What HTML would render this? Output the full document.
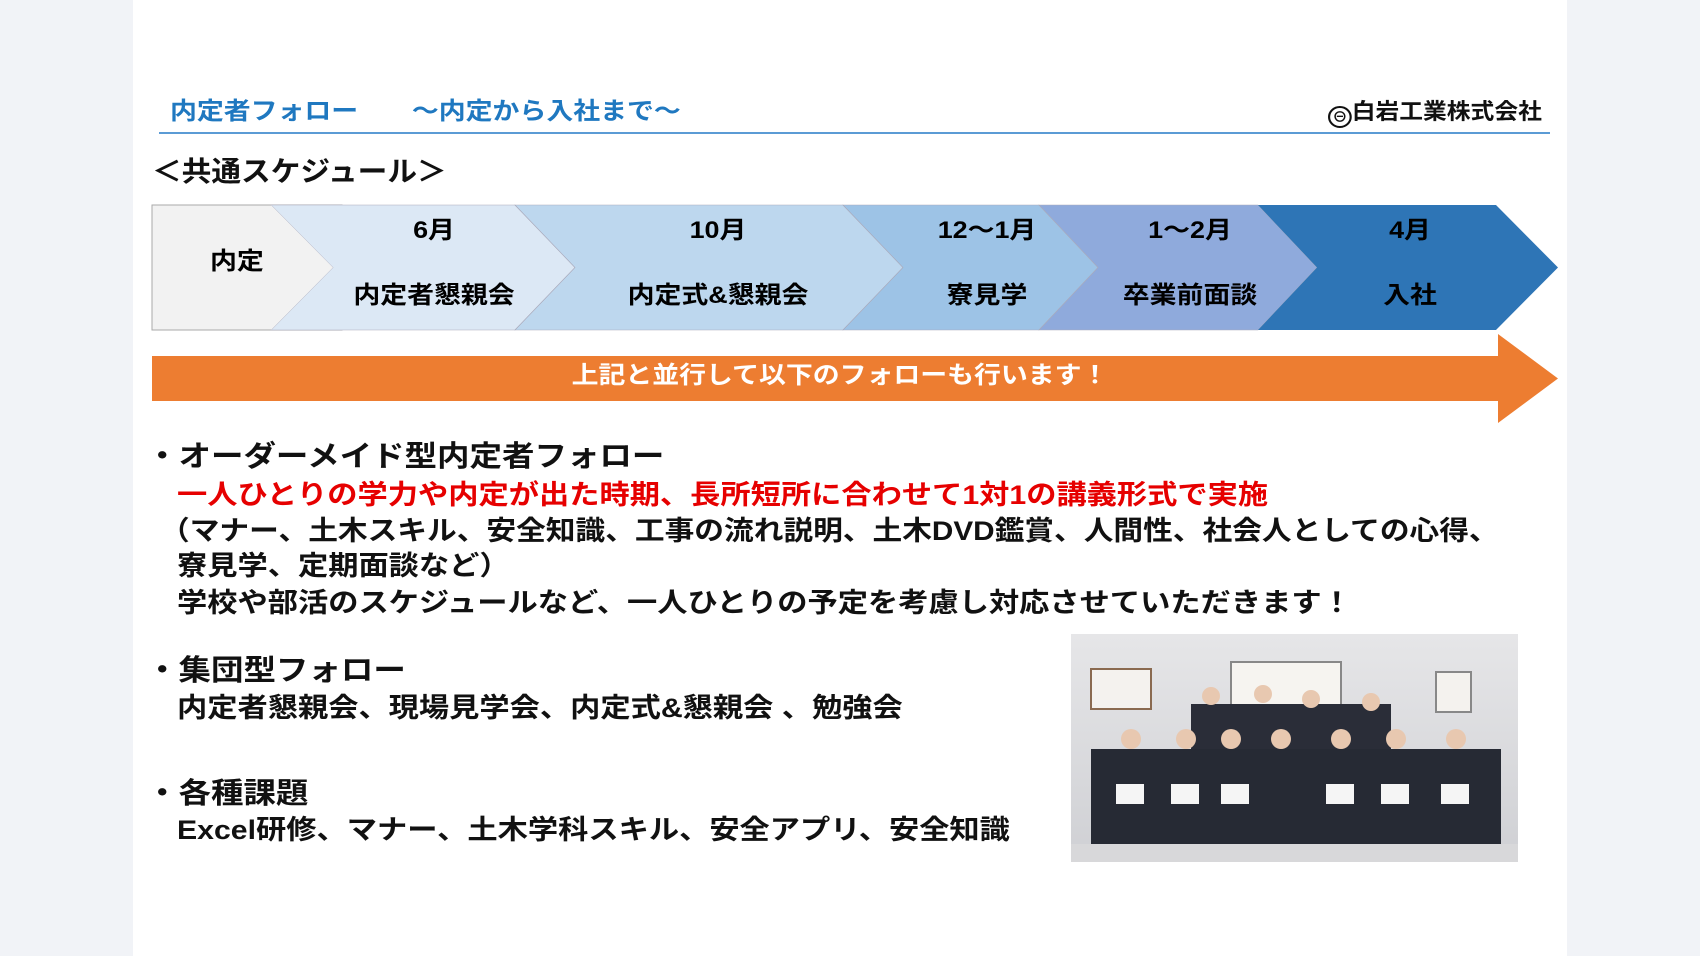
<!DOCTYPE html>
<html><head><meta charset="utf-8">
<style>
html,body{margin:0;padding:0}
body{width:1700px;height:956px;position:relative;background:#f1f3f7;overflow:hidden;font-family:"Liberation Sans","Noto Sans CJK JP",sans-serif;}
#panel{position:absolute;left:133px;top:0;width:1434px;height:956px;background:#fff}
.t{position:absolute;white-space:nowrap;line-height:1;transform:scaleX(1.12);transform-origin:left center}
.c{transform:translateX(-50%) scaleX(1.12);transform-origin:center center}
.b{font-weight:bold}
</style></head><body>
<div id="panel"></div>
<div class="t" style="left:170px;top:100px;font-size:24px;color:#1f78c0;font-weight:bold">内定者フォロー　　～内定から入社まで～</div>
<div class="t b" style="left:1328px;top:101px;font-size:22px;color:#111;transform:scaleX(1.08)"><span style="display:inline-block;width:22px;height:22px;border:2px solid #111;border-radius:50%;box-sizing:border-box;vertical-align:-3px;text-align:center;font-size:14px;line-height:18px">⊖</span>白岩工業株式会社</div>
<div style="position:absolute;left:159px;top:132px;width:1391px;height:2px;background:#5b9bd5"></div>
<div class="t b" style="left:152px;top:158px;font-size:28px;color:#111;transform:scaleX(1.06)">＜共通スケジュール＞</div>
<svg style="position:absolute;left:0;top:0" width="1700" height="956">
<rect x="152" y="205" width="190" height="125" fill="#f2f2f2" stroke="#aaa" stroke-width="1"/>
<polygon points="271,205 515,205 575,267.5 515,330 271,330 333,267.5" fill="#dce8f5" stroke="#aab" stroke-width="0.6"/>
<polygon points="271,205 271,205 333,267.5 271,330" fill="#f2f2f2"/>
<polygon points="515,205 843,205 903,267.5 843,330 515,330 575,267.5" fill="#bdd7ee" stroke="#aab" stroke-width="0.6"/>
<polygon points="843,205 1039,205 1098,267.5 1039,330 843,330 903,267.5" fill="#9dc3e6" stroke="#aab" stroke-width="0.6"/>
<polygon points="1039,205 1258,205 1317,267.5 1258,330 1039,330 1098,267.5" fill="#8faadc" stroke="#aab" stroke-width="0.6"/>
<polygon points="1258,205 1496,205 1558,267.5 1496,330 1258,330 1317,267.5" fill="#2e75b6"/>
<polygon points="152,356 1498,356 1498,334 1558,378.5 1498,423 1498,401 152,401" fill="#ed7d31"/>
</svg>
<div class="t b" style="left:210px;top:250px;font-size:24px">内定</div>
<div class="t b c" style="left:434px;top:219px;font-size:24px">6月</div>
<div class="t b c" style="left:434px;top:284px;font-size:24px">内定者懇親会</div>
<div class="t b c" style="left:718px;top:219px;font-size:24px">10月</div>
<div class="t b c" style="left:718px;top:284px;font-size:24px">内定式&amp;懇親会</div>
<div class="t b c" style="left:987px;top:219px;font-size:24px">12～1月</div>
<div class="t b c" style="left:987px;top:284px;font-size:24px">寮見学</div>
<div class="t b c" style="left:1190px;top:219px;font-size:24px">1～2月</div>
<div class="t b c" style="left:1190px;top:284px;font-size:24px">卒業前面談</div>
<div class="t b c" style="left:1410px;top:219px;font-size:24px">4月</div>
<div class="t b c" style="left:1410px;top:284px;font-size:24px">入社</div>
<div class="t b c" style="left:840px;top:364px;font-size:24px;color:#fff">上記と並行して以下のフォローも行います！</div>

<div class="t b" style="left:146px;top:443px;font-size:29px;color:#111">・オーダーメイド型内定者フォロー</div>
<div class="t b" style="left:177px;top:482px;font-size:27px;color:#e60000">一人ひとりの学力や内定が出た時期、長所短所に合わせて1対1の講義形式で実施</div>
<div class="t b" style="left:160px;top:518px;font-size:27px;color:#111;transform:scaleX(1.1)">（マナー、土木スキル、安全知識、工事の流れ説明、土木DVD鑑賞、人間性、社会人としての心得、</div>
<div class="t b" style="left:177px;top:553px;font-size:27px;color:#111">寮見学、定期面談など）</div>
<div class="t b" style="left:177px;top:590px;font-size:27px;color:#111">学校や部活のスケジュールなど、一人ひとりの予定を考慮し対応させていただきます！</div>
<div class="t b" style="left:146px;top:657px;font-size:29px;color:#111">・集団型フォロー</div>
<div class="t b" style="left:177px;top:695px;font-size:27px;color:#111">内定者懇親会、現場見学会、内定式&amp;懇親会 、勉強会</div>
<div class="t b" style="left:146px;top:780px;font-size:29px;color:#111">・各種課題</div>
<div class="t b" style="left:177px;top:817px;font-size:27px;color:#111">Excel研修、マナー、土木学科スキル、安全アプリ、安全知識</div>

<svg style="position:absolute;left:1071px;top:634px" width="447" height="228">
<defs><linearGradient id="w" x1="0" y1="0" x2="0" y2="1"><stop offset="0" stop-color="#e6e6e8"/><stop offset="1" stop-color="#cfd0d4"/></linearGradient></defs>
<rect width="447" height="228" fill="url(#w)"/>
<rect x="20" y="35" width="60" height="40" fill="#f4f2ee" stroke="#8a6a50" stroke-width="2"/>
<rect x="160" y="28" width="110" height="55" fill="#f6f4f0" stroke="#888" stroke-width="2"/>
<rect x="365" y="38" width="35" height="40" fill="#f4f2ee" stroke="#888" stroke-width="2"/>
<rect x="120" y="70" width="200" height="80" fill="#2a2d38"/>
<rect x="20" y="115" width="410" height="95" fill="#262a34"/>
<g fill="#e8c8b0">
<circle cx="60" cy="105" r="10"/><circle cx="115" cy="105" r="10"/><circle cx="160" cy="105" r="10"/><circle cx="210" cy="105" r="10"/><circle cx="270" cy="105" r="10"/><circle cx="325" cy="105" r="10"/><circle cx="385" cy="105" r="10"/>
<circle cx="140" cy="62" r="9"/><circle cx="192" cy="60" r="9"/><circle cx="240" cy="65" r="9"/><circle cx="300" cy="68" r="9"/>
</g>
<g fill="#f5f5f5"><rect x="45" y="150" width="28" height="20"/><rect x="100" y="150" width="28" height="20"/><rect x="150" y="150" width="28" height="20"/><rect x="255" y="150" width="28" height="20"/><rect x="310" y="150" width="28" height="20"/><rect x="370" y="150" width="28" height="20"/></g>
<rect x="0" y="210" width="447" height="18" fill="#d8d8da"/>
</svg>
</body></html>
